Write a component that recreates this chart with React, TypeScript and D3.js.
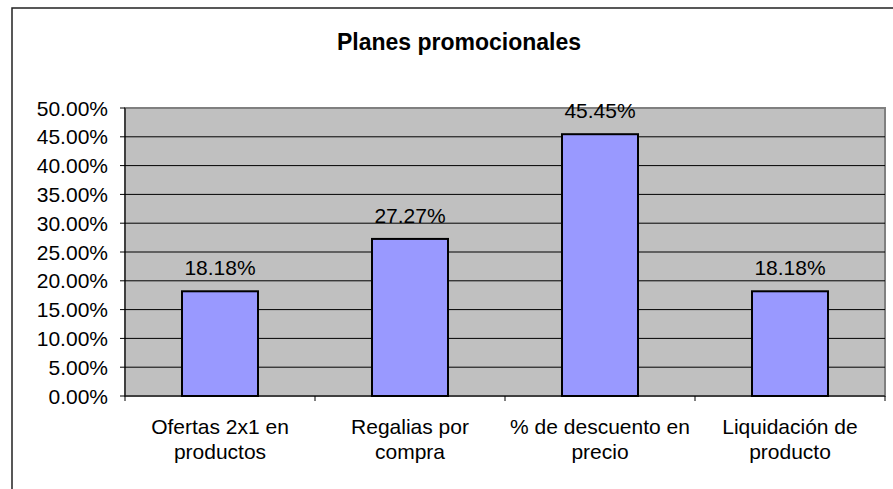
import React from "react";
import * as d3 from "d3";

const categories: string[][] = [
  ["Ofertas 2x1 en", "productos"],
  ["Regalias por", "compra"],
  ["% de descuento en", "precio"],
  ["Liquidación de", "producto"],
];
const values: number[] = [0.1818, 0.2727, 0.4545, 0.1818];
const yTicks: number[] = d3.range(0, 0.5001, 0.05);
const title = "Planes promocionales";

export default function App() {
  const W = 893, H = 489;
  const left = 125, right = 885, top = 108, bottom = 396;
  const x = d3.scaleBand<number>().domain(d3.range(values.length)).range([left, right]).paddingInner(0.6).paddingOuter(0.3);
  const band = d3.scaleBand<number>().domain(d3.range(values.length)).range([left, right]);
  const y = d3.scaleLinear().domain([0, 0.5]).range([bottom, top]);
  const font = "'Liberation Sans', Arial, sans-serif";
  const fmt = (v: number) => (v * 100).toFixed(2) + "%";
  return (
    <svg width={W} height={H} style={{ position: "absolute", left: 0, top: 0 }} fontFamily={font}>
      <rect x={0} y={0} width={W} height={H} fill="#fff" />
      <rect x={12} y={8} width={900} height={500} fill="#fff" stroke="#222" strokeWidth={1.5} />
      <text x={459} y={50} textAnchor="middle" fontSize={23} fontWeight="bold">{title}</text>
      <rect x={left} y={top} width={right - left} height={bottom - top} fill="#C0C0C0" stroke="#808080" strokeWidth={2} />
      {yTicks.map((t, i) => (
        <g key={i}>
          {t > 0 && t < 0.5 && <line x1={left} x2={right} y1={y(t)} y2={y(t)} stroke="#000" strokeWidth={1} />}
          <line x1={left - 5} x2={left} y1={y(t)} y2={y(t)} stroke="#000" />
          <text x={108} y={y(t)} dy="0.36em" textAnchor="end" fontSize={21}>{fmt(t)}</text>
        </g>
      ))}
      <line x1={left} x2={left} y1={top} y2={bottom + 5} stroke="#000" />
      <line x1={left} x2={right} y1={bottom} y2={bottom} stroke="#000" />
      {band.domain().map((i) => (
        <line key={i} x1={(band(i) as number) + band.bandwidth()} x2={(band(i) as number) + band.bandwidth()} y1={bottom} y2={bottom + 5} stroke="#000" />
      ))}
      {values.map((v, i) => (
        <g key={i}>
          <rect x={x(i)} y={y(v)} width={x.bandwidth()} height={bottom - y(v)} fill="#9999FF" stroke="#000" strokeWidth={2} />
          <text x={(x(i) as number) + x.bandwidth() / 2} y={y(v) - 16} textAnchor="middle" fontSize={21}>{fmt(v)}</text>
          {categories[i].map((line, j) => (
            <text key={j} x={(band(i) as number) + band.bandwidth() / 2} y={434 + j * 25} textAnchor="middle" fontSize={21}>{line}</text>
          ))}
        </g>
      ))}
    </svg>
  );
}
